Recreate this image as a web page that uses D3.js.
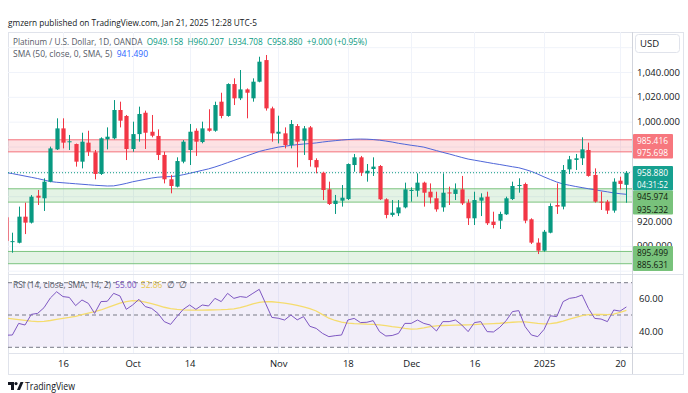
<!DOCTYPE html>
<html>
<head>
<meta charset="utf-8">
<script src="https://cdn.jsdelivr.net/npm/d3@7"></script>
<style>
  body { margin: 0; background: #fff; }
  svg text { font-family: "Open Sans", "Liberation Sans", sans-serif; }
</style>
</head>
<body>
<svg id="chart" width="688" height="393"></svg>
<script>
// ---- data ----
var dates = [
  "2024-09-03","2024-09-04","2024-09-05","2024-09-06","2024-09-09","2024-09-10","2024-09-11","2024-09-12","2024-09-13","2024-09-16",
  "2024-09-17","2024-09-18","2024-09-19","2024-09-20","2024-09-23","2024-09-24","2024-09-25","2024-09-26","2024-09-27","2024-09-30",
  "2024-10-01","2024-10-02","2024-10-03","2024-10-04","2024-10-07","2024-10-08","2024-10-09","2024-10-10","2024-10-11","2024-10-14",
  "2024-10-15","2024-10-16","2024-10-17","2024-10-18","2024-10-21","2024-10-22","2024-10-23","2024-10-24","2024-10-25","2024-10-28",
  "2024-10-29","2024-10-30","2024-10-31","2024-11-01","2024-11-04","2024-11-05","2024-11-06","2024-11-07","2024-11-08","2024-11-11",
  "2024-11-12","2024-11-13","2024-11-14","2024-11-15","2024-11-18","2024-11-19","2024-11-20","2024-11-21","2024-11-22","2024-11-25",
  "2024-11-26","2024-11-27","2024-11-28","2024-11-29","2024-12-02","2024-12-03","2024-12-04","2024-12-05","2024-12-06","2024-12-09",
  "2024-12-10","2024-12-11","2024-12-12","2024-12-13","2024-12-16","2024-12-17","2024-12-18","2024-12-19","2024-12-20","2024-12-23",
  "2024-12-24","2024-12-26","2024-12-27","2024-12-30","2024-12-31","2025-01-02","2025-01-03","2025-01-06","2025-01-07","2025-01-08",
  "2025-01-09","2025-01-10","2025-01-13","2025-01-14","2025-01-15","2025-01-16","2025-01-17","2025-01-20","2025-01-21"
];
var open = [923,903.0,902.5,923.5,918.7,940.4,938.3,951.7,977.7,994.6, 983.6,982,967.8,983.1,975.3,957.9,985.8,986.6,1009.4,1004.6,
  978,990,1007.2,991.9,988.5,973.2,953.6,947.7,967.8,977.2, 992.7,983.6,994.6,992.7,1016.1,1004.6,1030.3,1018.8,1026,1018.8,
  1032.2,1049.6,1010.7,990.3,990.6,981.2,996.5,984.7,995.4,969.1, 958.9,945.5,933.7,936.4,937.7,965.1,971.3,958.4,961.9,964.3,
  937.5,924.9,926.2,931,944.5,944.4,950.9,943.6,938.3,931, 943,941.8,945.5,934.8,922.2,936.4,939.6,919.5,920.3,925.4,
  937.7,948.5,949.8,921.4,902.6,896.1,910.6,932.9,931.6,961.6, 969.2,970.5,977.2,957.1,935.6,935.6,928.4,952.5,949.158];
var high = [925,910.6,931.6,934.8,940.9,945,954.4,979.9,1002.7,1002.7, 989.3,982.4,991.1,992.7,977.2,987.4,995.4,1017.4,1016.1,1005.4,
  1000,1012.1,1008.9,1005.4,993.8,975.8,957.1,971.3,985.2,998.1, 994.6,1000,1010,1016.1,1023.3,1030.9,1034.9,1041.6,1026.8,1034.9,
  1052.3,1053.7,1012.1,1004.8,995.4,1001.3,998.1,996.5,996.5,970.5, 959.7,951.7,941,949,966.4,974,972.4,965.9,971.3,965.1,
  938.3,936.9,936.9,950.9,947.1,958.4,951.7,950.3,943.6,958.4, 947.7,950.3,956.3,937.5,943.6,942.3,943.6,927.5,927.5,939.6,
  951.7,954.4,950.9,922.2,906.1,912.8,934.2,950.3,965.1,972.4, 974,987.4,983.1,962.4,943.6,937,954.4,955.7,960.207];
var low = [902,894.5,902,909.5,918,932.9,928.1,951.2,977.2,978.5, 977.2,963.8,962.4,972.4,953.6,957.1,977.7,985.8,995.4,969.1,
  975.8,983.9,978,987.4,969.1,950.3,942.3,947.1,966.5,965.1, 972.4,982.6,991.9,991.9,1002.7,1004,1013.4,1017.4,1002.7,1016.1,
  1031.7,1008.9,983.9,982.5,978.5,978.5,963.2,973.2,963.8,958.4, 936.9,932.9,925.7,931.6,936.9,959.7,956.3,951.7,956.3,936.9,
  922.2,923.5,924,930.2,935.6,939.6,931.6,934.2,927.5,927.5, 932.9,936.9,932.9,916.8,916.8,924,916.8,914.1,913.6,924.9,
  936.9,942.8,918.2,901.5,893.4,895.3,910.1,925.7,929.4,957.9, 961.1,965.1,955.7,934.8,928.9,925.7,926.7,945.5,934.708];
var close = [904,903.8,923.5,918.7,939.6,938.8,951.7,978.5,994.6,983.1, 984.2,967.8,983.9,975.8,957.9,986.6,987.9,1009.4,1000.8,978,
  990,1006.2,991.1,988.7,973.2,953.6,948.2,968.3,983.9,991.9, 983.9,994.6,992.7,1013.4,1004.6,1030.3,1018.8,1026,1023.3,1032.2,
  1048.3,1010.7,990.6,991.9,981.2,998.1,983.9,994.6,969.1,963.2, 945,933.7,936.4,938.8,965.9,971.3,958.9,960.5,963.8,937.5,
  924.9,926.7,931,945.5,945,950.9,942.8,939,929.4,942.8, 942.5,945.5,934.2,922.2,936.9,939,918.2,916.8,925.7,938.3,
  948.2,949,920.3,902.6,896.1,911.4,932.1,931.6,961.1,969.7, 970.5,977.7,956.3,935.6,934.8,928.4,951.7,949.88,958.88];
var sma50 = [959.0,958.2,957.2,956.2,955.2,954.2,953.0,951.8,951.2,950.8, 950.4,950.0,949.6,949.2,948.8,948.5,948.2,948.3,949.2,950.3,
  951.6,952.6,953.6,954.6,955.3,955.6,955.8,956.3,957.3,958.4, 959.6,960.8,962.0,963.5,965.2,967.0,968.8,970.6,972.4,974.2,
  976.0,977.3,978.4,979.5,980.2,980.9,981.5,982.0,982.4,982.9, 983.6,984.2,984.7,985.2,985.6,985.9,986.0,985.9,985.6,985.1,
  984.4,983.6,982.6,981.8,981.0,980.3,979.5,978.1,976.7,975.3, 974.0,972.6,971.2,969.9,969.0,968.1,967.2,966.3,965.5,964.6,
  963.7,962.9,961.5,959.9,957.8,955.5,953.4,951.4,949.8,948.8, 947.8,946.9,946.0,945.2,944.3,943.5,942.6,942.0,941.49];
var rsi = [37.5,37.6,44.8,43.8,50.4,51.0,54.5,60.5,64.4,61.4, 60.9,55.8,59.3,57.2,51.0,58.3,58.5,63.4,61.8,53.5,
  56.2,59.7,55.2,54.1,51.0,45.9,44.2,49.0,53.5,56.2, 53.5,56.2,55.6,60.3,58.3,63.4,60.3,61.4,60.9,63.4,
  65.9,57.2,48.5,48.0,46.9,50.0,47.0,49.0,43.0,41.7, 38.6,36.6,37.2,37.6,46.9,47.9,45.3,45.5,46.5,39.7,
  37.0,37.3,38.6,44.8,44.8,46.9,44.8,43.8,40.1,45.9, 45.9,46.9,43.8,39.7,45.3,45.9,39.7,39.5,42.4,46.5,
  52.1,52.7,42.8,37.6,36.6,41.1,49.5,49.0,58.3,60.3, 60.9,62.4,54.1,47.9,47.5,45.9,53.1,52.4,55.0];
var rsiMa = [48.0,47.6,47.2,46.7,46.2,45.9,46.1,46.6,47.3,47.9, 48.5,49.2,50.3,51.2,52.1,53.1,54.5,56.0,57.3,58.3,
  58.9,58.8,58.0,57.0,56.0,54.8,54.0,53.5,53.2,53.0, 53.0,53.0,53.1,53.2,53.3,53.5,53.8,54.5,55.6,56.9,
  57.8,58.3,58.2,57.8,57.4,56.8,56.0,55.0,54.0,52.5, 50.2,48.0,46.6,45.6,45.0,44.7,44.5,44.3,44.2,43.9,
  43.4,42.8,42.3,41.7,41.2,41.4,42.0,42.8,43.3,43.5, 43.6,43.7,43.8,43.9,44.1,44.3,44.5,44.7,44.9,45.2,
  45.5,45.8,45.7,45.3,44.8,44.5,44.6,45.2,46.2,47.4, 48.6,49.6,50.2,50.4,50.3,50.2,50.6,51.6,52.86];

var tickDates = ["2024-09-16","2024-10-01","2024-10-14","2024-11-01","2024-11-18","2024-12-02","2024-12-16","2025-01-02","2025-01-20"];
var tickLabels = ["16","Oct","14","Nov","18","Dec","16","2025","20"];
var priceGrid = [880, 900, 920, 940, 960, 980, 1000, 1020, 1040, 1060];
var priceTicks = [900, 920, 1000, 1020, 1040];   // the rest sit under the coloured labels
var rsiTicks = [40, 60];

var redZone = [975.698, 985.416];
var greenZones = [[935.232, 945.974], [885.631, 895.499]];
var lastPrice = 958.880;

// ---- layout ----
var plotL = 8, plotR = 632, mainT = 32, mainB = 274, rsiT = 274, rsiB = 353, axisB = 374;
var green = "#089981", red = "#F23645";

var svg = d3.select("#chart");

var x = d3.scalePoint().domain(dates).range([6, 626.4]);
var y = d3.scaleLinear().domain([880, 1040]).range([270.7, 72]);
var yR = d3.scaleLinear().domain([30, 70]).range([347.3, 282.7]);

// header
svg.append("text").attr("x", 8).attr("y", 25.5).attr("font-size", 9.5).attr("fill", "#131722")
  .attr("textLength", 249).attr("lengthAdjust", "spacingAndGlyphs")
  .text("gmzern published on TradingView.com, Jan 21, 2025 12:28 UTC-5");

// frame
svg.append("rect").attr("x", plotL + 0.5).attr("y", mainT + 0.5).attr("width", 675).attr("height", axisB - mainT)
  .attr("fill", "none").attr("stroke", "#e0e3eb");

var defs = svg.append("defs");
defs.append("clipPath").attr("id", "mainClip").append("rect")
  .attr("x", plotL).attr("y", mainT).attr("width", plotR - plotL).attr("height", mainB - mainT);
defs.append("clipPath").attr("id", "rsiClip").append("rect")
  .attr("x", plotL).attr("y", rsiT).attr("width", plotR - plotL).attr("height", rsiB - rsiT);

var main = svg.append("g").attr("clip-path", "url(#mainClip)");
var rp = svg.append("g").attr("clip-path", "url(#rsiClip)");

// grids
main.selectAll(".hg").data(priceGrid).enter().append("line")
  .attr("x1", plotL).attr("x2", plotR).attr("y1", function(d) { return y(d) + 0.5; }).attr("y2", function(d) { return y(d) + 0.5; })
  .attr("stroke", "#f0f3fa");
[main, rp].forEach(function(g) {
  g.selectAll(".vg").data(tickDates).enter().append("line")
    .attr("x1", function(d) { return Math.round(x(d)) + 0.5; }).attr("x2", function(d) { return Math.round(x(d)) + 0.5; })
    .attr("y1", mainT).attr("y2", rsiB).attr("stroke", "#f0f3fa");
});

// zones
function zone(range, fill, stroke) {
  main.append("rect").attr("x", plotL).attr("width", plotR - plotL)
    .attr("y", y(range[1])).attr("height", y(range[0]) - y(range[1])).attr("fill", fill);
  range.forEach(function(v) {
    main.append("line").attr("x1", plotL).attr("x2", plotR).attr("y1", y(v)).attr("y2", y(v))
      .attr("stroke", stroke).attr("stroke-width", 1);
  });
}
zone(redZone, "rgba(242,54,69,0.15)", "#f4737b");
greenZones.forEach(function(z) { zone(z, "rgba(76,175,80,0.15)", "#7cc47f"); });

// SMA line
main.append("path").datum(sma50)
  .attr("d", d3.line().x(function(d, i) { return x(dates[i]); }).y(function(d) { return y(d); }))
  .attr("fill", "none").attr("stroke", "#4f66d9").attr("stroke-width", 1);

// last price dotted line
main.append("line").attr("x1", plotL).attr("x2", plotR).attr("y1", y(lastPrice)).attr("y2", y(lastPrice))
  .attr("stroke", green).attr("stroke-dasharray", "1,2").attr("stroke-width", 1);

// candles
var bw = 4.2;
var candles = main.selectAll(".c").data(dates).enter().append("g");
candles.append("line")
  .attr("x1", function(d) { return Math.round(x(d)) + 0.5; }).attr("x2", function(d) { return Math.round(x(d)) + 0.5; })
  .attr("y1", function(d, i) { return y(high[i]); }).attr("y2", function(d, i) { return y(low[i]); })
  .attr("stroke", function(d, i) { return close[i] >= open[i] ? green : red; });
candles.append("rect")
  .attr("x", function(d) { return Math.round(x(d)) + 0.5 - bw / 2; }).attr("width", bw)
  .attr("y", function(d, i) { return y(Math.max(open[i], close[i])); })
  .attr("height", function(d, i) { return Math.max(1, Math.abs(y(open[i]) - y(close[i]))); })
  .attr("fill", function(d, i) { return close[i] >= open[i] ? green : red; });

// legend lines: one text per line, coloured runs as tspans
function legend(xx, yy, len, parts) {
  var t = svg.append("text").attr("x", xx).attr("y", yy).attr("font-size", 9.5)
    .attr("textLength", len).attr("lengthAdjust", "spacingAndGlyphs").attr("xml:space", "preserve");
  parts.forEach(function(p) { t.append("tspan").attr("fill", p[1]).text(p[0]); });
}
var grey = "#555a66";
legend(13, 45, 354, [["Platinum / U.S. Dollar, 1D, OANDA  ", grey], ["O949.158  H960.207  L934.708  C958.880  +9.000 (+0.95%)", green]]);
legend(13, 57, 135, [["SMA (50, close, 0, SMA, 5)  ", grey], ["941.490", "#2962FF"]]);

// pane separators
svg.append("line").attr("x1", plotL).attr("x2", 683).attr("y1", rsiT + 0.5).attr("y2", rsiT + 0.5).attr("stroke", "#e0e3eb");
svg.append("line").attr("x1", plotL).attr("x2", 683).attr("y1", rsiB + 0.5).attr("y2", rsiB + 0.5).attr("stroke", "#e0e3eb");
svg.append("line").attr("x1", plotR + 0.5).attr("x2", plotR + 0.5).attr("y1", mainT).attr("y2", axisB).attr("stroke", "#d1d4dc");

// RSI pane
rp.append("rect").attr("x", plotL).attr("width", plotR - plotL).attr("y", yR(70)).attr("height", yR(30) - yR(70))
  .attr("fill", "rgba(126,87,194,0.1)");
rp.selectAll(".rl").data([70, 50, 30]).enter().append("line")
  .attr("x1", plotL).attr("x2", plotR).attr("y1", function(d) { return yR(d); }).attr("y2", function(d) { return yR(d); })
  .attr("stroke", "#787b86").attr("stroke-dasharray", "4,3").attr("stroke-width", 1);
rp.append("path").datum(rsiMa)
  .attr("d", d3.line().x(function(d, i) { return x(dates[i]); }).y(function(d) { return yR(d); }))
  .attr("fill", "none").attr("stroke", "#f5dc6e").attr("stroke-width", 1.3);
rp.append("path").datum(rsi)
  .attr("d", d3.line().x(function(d, i) { return x(dates[i]); }).y(function(d) { return yR(d); }))
  .attr("fill", "none").attr("stroke", "#7E57C2").attr("stroke-width", 1);

legend(13, 288, 174, [["RSI (14, close, SMA, 14, 2)  ", grey], ["55.00  ", "#7E57C2"], ["52.86  ", "#e8c84a"], ["\u2205  \u2205", grey]]);

// price axis
var pAxis = svg.append("g").attr("transform", "translate(" + plotR + ",0)")
  .call(d3.axisRight(y).tickValues(priceTicks).tickFormat(d3.format(",.3f")).tickSize(0).tickPadding(5));
pAxis.select(".domain").remove();
pAxis.selectAll("text").attr("font-size", 9.5).attr("fill", "#131722").attr("font-family", "Open Sans");

var rAxis = svg.append("g").attr("transform", "translate(" + plotR + ",0)")
  .call(d3.axisRight(yR).tickValues(rsiTicks).tickFormat(d3.format(".2f")).tickSize(0).tickPadding(7));
rAxis.select(".domain").remove();
rAxis.selectAll("text").attr("font-size", 9.5).attr("fill", "#131722").attr("font-family", "Open Sans");

// time axis
var tAxis = svg.append("g").attr("transform", "translate(0," + rsiB + ")")
  .call(d3.axisBottom(x).tickValues(tickDates).tickFormat(function(d, i) { return tickLabels[i]; }).tickSize(0).tickPadding(7));
tAxis.select(".domain").remove();
tAxis.selectAll("text").attr("font-size", 9.5).attr("fill", "#131722").attr("font-family", "Open Sans");

// price labels
function plabel(yTop, h, bg, fg, lines) {
  svg.append("rect").attr("x", plotR + 1).attr("y", yTop).attr("width", 40).attr("height", h).attr("fill", bg).attr("rx", 1);
  lines.forEach(function(l, k) {
    svg.append("text").attr("x", plotR + 5).attr("y", yTop + 9.5 + k * 12.5).attr("font-size", 8.6)
      .attr("textLength", 31).attr("lengthAdjust", "spacingAndGlyphs")
      .attr("fill", fg).text(l);
  });
}
plabel(134, 24.5, "#f7777e", "#fff", [d3.format(".3f")(redZone[1]), d3.format(".3f")(redZone[0])]);
plabel(166, 24.5, "#16a08f", "#fff", [d3.format(".3f")(lastPrice), "04:31:52"]);
plabel(190.5, 24, "#78c27b", "#10200f", [d3.format(".3f")(greenZones[0][1]), d3.format(".3f")(greenZones[0][0])]);
plabel(246, 25, "#78c27b", "#10200f", [d3.format(".3f")(greenZones[1][1]), d3.format(".3f")(greenZones[1][0])]);

// USD box
svg.append("rect").attr("x", 635.5).attr("y", 34.5).attr("width", 44).attr("height", 18).attr("rx", 3)
  .attr("fill", "#fff").attr("stroke", "#e0e3eb");
svg.append("text").attr("x", 640).attr("y", 47).attr("font-size", 9.5).attr("fill", "#131722").text("USD");

// footer logo
var lg = svg.append("g").attr("transform", "translate(8,382)").attr("fill", "#131722");
lg.append("path").attr("d", "M0,0H6V8H3V3H0Z");
lg.append("circle").attr("cx", 8).attr("cy", 1.6).attr("r", 1.6);
lg.append("path").attr("d", "M9,8L12.5,0H15.5L12,8Z");
svg.append("text").attr("x", 25).attr("y", 390).attr("font-size", 10).attr("fill", "#131722")
  .attr("textLength", 50).attr("lengthAdjust", "spacingAndGlyphs").text("TradingView");
</script>
</body>
</html>
